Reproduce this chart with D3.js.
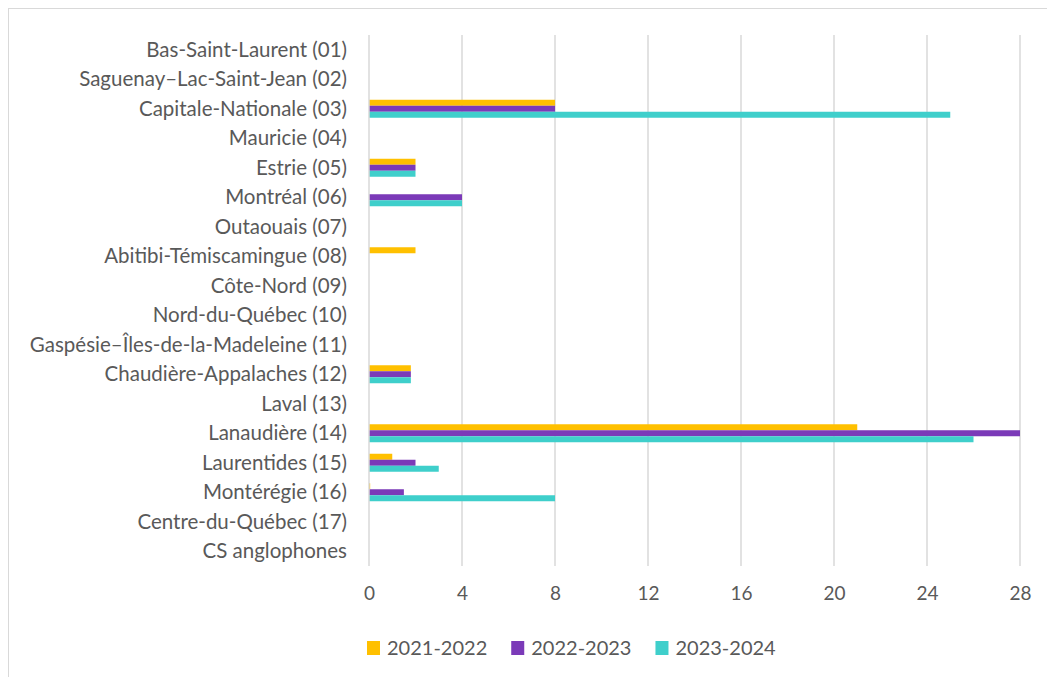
<!DOCTYPE html>
<html>
<head>
<meta charset="utf-8">
<script src="https://cdn.jsdelivr.net/npm/d3@7"></script>
<style>
  body { margin: 0; background: #fff; }
  text { font-family: Lato, "Open Sans", sans-serif; fill: #595959; }
</style>
</head>
<body>
<script>
// Données
const regions = [
    "Bas-Saint-Laurent (01)", "Saguenay–Lac-Saint-Jean (02)", "Capitale-Nationale (03)",
    "Mauricie (04)", "Estrie (05)", "Montréal (06)", "Outaouais (07)",
    "Abitibi-Témiscamingue (08)", "Côte-Nord (09)", "Nord-du-Québec (10)",
    "Gaspésie–Îles-de-la-Madeleine (11)", "Chaudière-Appalaches (12)", "Laval (13)",
    "Lanaudière (14)", "Laurentides (15)", "Montérégie (16)", "Centre-du-Québec (17)",
    "CS anglophones"
];
const years = ["2021-2022", "2022-2023", "2023-2024"];
const values2021 = [0, 0, 8, 0, 2, 0, 0, 2, 0, 0, 0, 1.8, 0, 21, 1, 0.05, 0, 0];
const values2022 = [0, 0, 8, 0, 2, 4, 0, 0, 0, 0, 0, 1.8, 0, 28, 2, 1.5, 0, 0];
const values2023 = [0, 0, 25, 0, 2, 4, 0, 0, 0, 0, 0, 1.8, 0, 26, 3, 8, 0, 0];
const ticks = [0, 4, 8, 12, 16, 20, 24, 28];
const colors = ["#FFC000", "#7B3AB8", "#3FCFCB"];

const series = [values2021, values2022, values2023];

const width = 1047, height = 677;
const margin = { top: 35, right: 27, bottom: 111, left: 369 };

const svg = d3.select('body')
    .append('svg')
    .attr('width', width)
    .attr('height', height);

// cadre du graphique
svg.append('rect')
    .attr('x', 8.5).attr('y', 8.5)
    .attr('width', width).attr('height', height)
    .attr('fill', 'none')
    .attr('stroke', '#d9d9d9');

const x = d3.scaleLinear()
    .domain([0, 28])
    .range([margin.left, width - margin.right]);

const y = d3.scaleBand()
    .domain(regions)
    .range([margin.top, height - margin.bottom])
    .paddingInner(0.39)
    .paddingOuter(0.195);

const yInner = d3.scaleBand()
    .domain(years)
    .range([0, y.bandwidth()]);

// grille verticale
svg.append('g')
    .selectAll('line')
    .data(ticks.slice(1))
    .join('line')
    .attr('x1', d => x(d)).attr('x2', d => x(d))
    .attr('y1', margin.top).attr('y2', height - margin.bottom)
    .attr('stroke', '#d9d9d9')
    .attr('stroke-width', 1.5);

// barres
svg.append('g')
    .selectAll('g')
    .data(series)
    .join('g')
    .attr('fill', (d, i) => colors[i])
    .each(function (vals, i) {
        d3.select(this).selectAll('rect')
            .data(vals.map((v, j) => ({ region: regions[j], v })))
            .join('rect')
            .attr('x', x(0))
            .attr('y', d => y(d.region) + yInner(years[i]))
            .attr('width', d => x(d.v) - x(0))
            .attr('height', yInner.bandwidth());
    });

// axe vertical
svg.append('line')
    .attr('x1', x(0)).attr('x2', x(0))
    .attr('y1', margin.top).attr('y2', height - margin.bottom)
    .attr('stroke', '#d9d9d9')
    .attr('stroke-width', 1.5);

// étiquettes des régions
svg.append('g')
    .selectAll('text')
    .data(regions)
    .join('text')
    .attr('x', 347)
    .attr('y', d => y(d) + y.bandwidth() / 2)
    .attr('dy', '0.35em')
    .attr('text-anchor', 'end')
    .style('font-size', '20.5px')
    .text(d => d);

// axe des x
const xAxis = svg.append('g')
    .attr('transform', `translate(0, ${height - margin.bottom})`)
    .call(d3.axisBottom(x).tickValues(ticks).tickSize(0).tickPadding(21));
xAxis.select('.domain').remove();
xAxis.selectAll('text')
    .style('font-size', '19px')
    .style('font-family', 'Lato, sans-serif')
    .attr('fill', '#595959');

// légende
const legend = svg.append('g')
    .attr('transform', 'translate(367, 648)');
let lx = 0;
years.forEach((yr, i) => {
    const item = legend.append('g').attr('transform', `translate(${lx}, 0)`);
    item.append('rect')
        .attr('x', 0).attr('y', -7)
        .attr('width', 13).attr('height', 14)
        .attr('fill', colors[i]);
    const t = item.append('text')
        .attr('x', 20).attr('dy', '0.35em')
        .style('font-size', '20px')
        .text(yr);
    lx += 20 + t.node().getComputedTextLength() + 24;
});
</script>
</body>
</html>
